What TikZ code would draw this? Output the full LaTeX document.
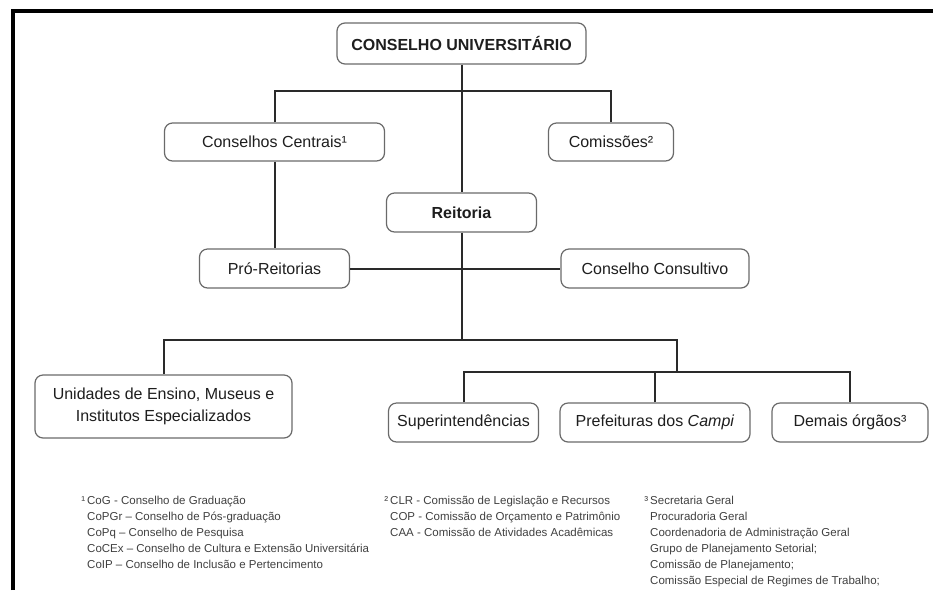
\documentclass[tikz,border=0pt]{standalone}
\usepackage{fontspec}
\setmainfont{Liberation Sans}
\definecolor{boxline}{HTML}{6A6A6A}
\definecolor{connline}{HTML}{2A2A2A}
\definecolor{ink}{HTML}{1E1E1E}

\begin{document}
\begin{tikzpicture}[x=1pt,y=-1pt,
    main/.style = {draw=boxline, line width=1.2pt, rounded corners=8pt, fill=white, text=ink, inner sep=0pt, align=center, font=\fontsize{16}{22}\selectfont},
    link/.style = {draw=connline, line width=2pt},
    note/.style = {anchor=base west, inner sep=0pt, align=left, text=ink!85, font=\fontsize{11.5}{16}\selectfont}]
        \useasboundingbox (0,0) rectangle (933,590);
        \draw[line width=4pt] (13,590) -- (13,11.3) -- (933,11.3);
        \node[main, minimum width=249pt, minimum height=41pt] (cu) at (461.5,43.5) {\textbf{CONSELHO UNIVERSITÁRIO}};
        \node[main, minimum width=220pt, minimum height=38pt] (cc) at (274.5,142) {Conselhos Centrais¹};
        \node[main, minimum width=125pt, minimum height=38pt] (com) at (611,142) {Comissões²};
        \node[main, minimum width=150pt, minimum height=39pt] (reit) at (461.5,212.5) {\textbf{Reitoria}};
        \node[main, minimum width=150pt, minimum height=39pt] (pro) at (274.5,268.5) {Pró-Reitorias};
        \node[main, minimum width=188pt, minimum height=39pt] (cons) at (655,268.5) {Conselho Consultivo};
        \node[main, minimum width=257pt, minimum height=63pt] (unid) at (163.5,406.5) {Unidades de Ensino, Museus e\\Institutos Especializados};
        \node[main, minimum width=150pt, minimum height=39pt] (sup) at (463.5,422.5) {Superintendências};
        \node[main, minimum width=190pt, minimum height=39pt] (pref) at (655,422.5) {Prefeituras dos \textit{Campi}};
        \node[main, minimum width=156pt, minimum height=39pt] (dem) at (850,422.5) {Demais órgãos³};
        \coordinate (top) at (461.5,91);
        \coordinate (mid) at (461.5,340);
        \coordinate (low) at (677,372);
        \draw[link] (cu) -- (reit);
        \draw[link] (cc.north) -- (cc.north |- top) -- (com.north |- top) -- (com.north);
        \draw[link] (cc) -- (pro);
        \draw[link] (pro) -- (cons);
        \draw[link] (reit) -- (mid);
        \draw[link] (unid.north) -- (unid.north |- mid) -- (low |- mid) -- (low);
        \draw[link] (sup.north) -- (sup.north |- low) -- (dem.north |- low) -- (dem.north);
        \draw[link] (pref.north) -- (pref.north |- low);
        \node[note] (n1) at (87,568) {\llap{¹\,}CoG - Conselho de Graduação\\CoPGr – Conselho de Pós-graduação\\CoPq – Conselho de Pesquisa\\CoCEx – Conselho de Cultura e Extensão Universitária\\CoIP – Conselho de Inclusão e Pertencimento};
        \node[note] (n2) at (390,536) {\llap{²\,}CLR - Comissão de Legislação e Recursos\\COP - Comissão de Orçamento e Patrimônio\\CAA - Comissão de Atividades Acadêmicas};
        \node[note] (n3) at (650,584) {\llap{³\,}Secretaria Geral\\Procuradoria Geral\\Coordenadoria de Administração Geral\\Grupo de Planejamento Setorial;\\Comissão de Planejamento;\\Comissão Especial de Regimes de Trabalho;};
\end{tikzpicture}
\end{document}
